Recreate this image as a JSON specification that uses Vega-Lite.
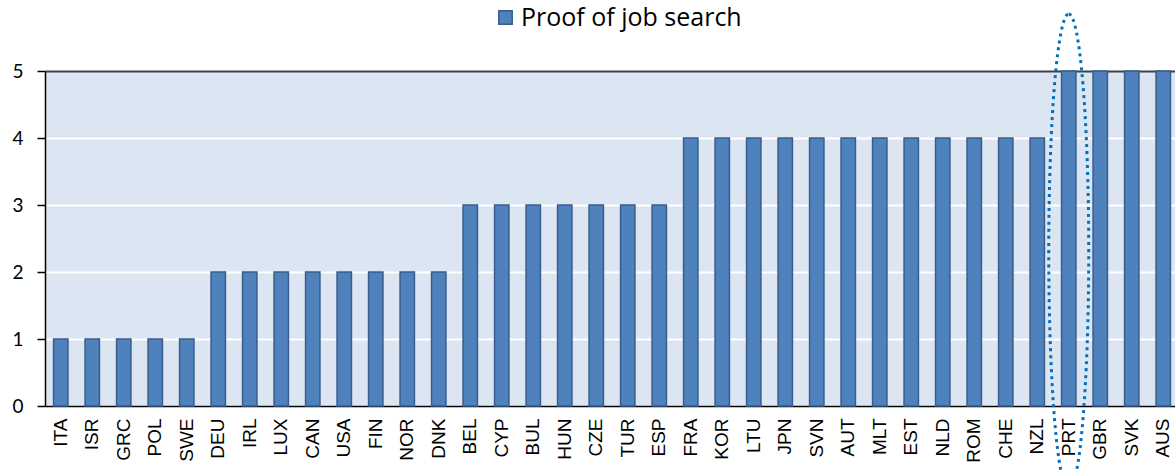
{
  "$schema": "https://vega.github.io/schema/vega-lite/v6.json",
  "width": 1134,
  "height": 335,
  "autosize": {"type": "none"},
  "padding": {"left": 45, "top": 71, "right": 0, "bottom": 65},
  "background": "white",
  "config": {
    "view": {"fill": "#dce6f2", "stroke": null},
    "font": "Lato"
  },
  "datasets": {
    "scores": [
      {"country": "ITA", "value": 1},
      {"country": "ISR", "value": 1},
      {"country": "GRC", "value": 1},
      {"country": "POL", "value": 1},
      {"country": "SWE", "value": 1},
      {"country": "DEU", "value": 2},
      {"country": "IRL", "value": 2},
      {"country": "LUX", "value": 2},
      {"country": "CAN", "value": 2},
      {"country": "USA", "value": 2},
      {"country": "FIN", "value": 2},
      {"country": "NOR", "value": 2},
      {"country": "DNK", "value": 2},
      {"country": "BEL", "value": 3},
      {"country": "CYP", "value": 3},
      {"country": "BUL", "value": 3},
      {"country": "HUN", "value": 3},
      {"country": "CZE", "value": 3},
      {"country": "TUR", "value": 3},
      {"country": "ESP", "value": 3},
      {"country": "FRA", "value": 4},
      {"country": "KOR", "value": 4},
      {"country": "LTU", "value": 4},
      {"country": "JPN", "value": 4},
      {"country": "SVN", "value": 4},
      {"country": "AUT", "value": 4},
      {"country": "MLT", "value": 4},
      {"country": "EST", "value": 4},
      {"country": "NLD", "value": 4},
      {"country": "ROM", "value": 4},
      {"country": "CHE", "value": 4},
      {"country": "NZL", "value": 4},
      {"country": "PRT", "value": 5},
      {"country": "GBR", "value": 5},
      {"country": "SVK", "value": 5},
      {"country": "AUS", "value": 5}
    ],
    "highlight": [
      {"country": "PRT", "value": 2.3}
    ]
  },
  "layer": [
    {
      "data": {"name": "scores"},
      "mark": {"type": "bar", "stroke": "#385d8a", "strokeWidth": 1.5},
      "encoding": {
        "x": {
          "field": "country",
          "type": "nominal",
          "sort": null,
          "scale": {"paddingInner": 0.543, "paddingOuter": 0.2715},
          "axis": {
            "title": null,
            "labelAngle": -90,
            "labelFont": "Liberation Sans",
            "labelFontSize": 19,
            "labelColor": "#000000",
            "labelPadding": 12,
            "ticks": false,
            "domainColor": "#000000",
            "domainWidth": 1.5
          }
        },
        "y": {
          "field": "value",
          "type": "quantitative",
          "scale": {"domain": [0, 5], "nice": false},
          "axis": {
            "title": null,
            "values": [0, 1, 2, 3, 4, 5],
            "format": "d",
            "labelFontSize": 19,
            "labelColor": "#000000",
            "labelPadding": 14,
            "tickSize": 8,
            "tickColor": "#000000",
            "tickWidth": 1.5,
            "domainColor": "#000000",
            "domainWidth": 1.5,
            "grid": true,
            "gridColor": {"condition": {"test": "datum.value == 5", "value": "#404040"}, "value": "#ffffff"},
            "gridWidth": 2
          }
        },
        "color": {
          "datum": "Proof of job search",
          "type": "nominal",
          "scale": {"range": ["#4f81bd"]},
          "legend": {
            "title": null,
            "orient": "none",
            "legendX": 448,
            "legendY": -66,
            "symbolType": "square",
            "symbolSize": 180,
            "symbolStrokeColor": "#385d8a",
            "symbolStrokeWidth": 1.5,
            "labelFontSize": 25,
            "labelColor": "#000000",
            "labelFont": "Open Sans",
            "labelOffset": 3,
            "labelLimit": 0
          }
        }
      }
    },
    {
      "data": {"name": "highlight"},
      "mark": {
        "type": "point",
        "shape": "M0,-1 A0.084,1 0 1,1 0,1 A0.084,1 0 1,1 0,-1 Z",
        "size": 226576,
        "filled": false,
        "stroke": "#0070c0",
        "strokeWidth": 3,
        "strokeDash": [3, 4],
        "opacity": 1
      },
      "encoding": {
        "x": {"field": "country", "type": "nominal", "sort": null},
        "y": {"field": "value", "type": "quantitative"}
      }
    }
  ]
}
